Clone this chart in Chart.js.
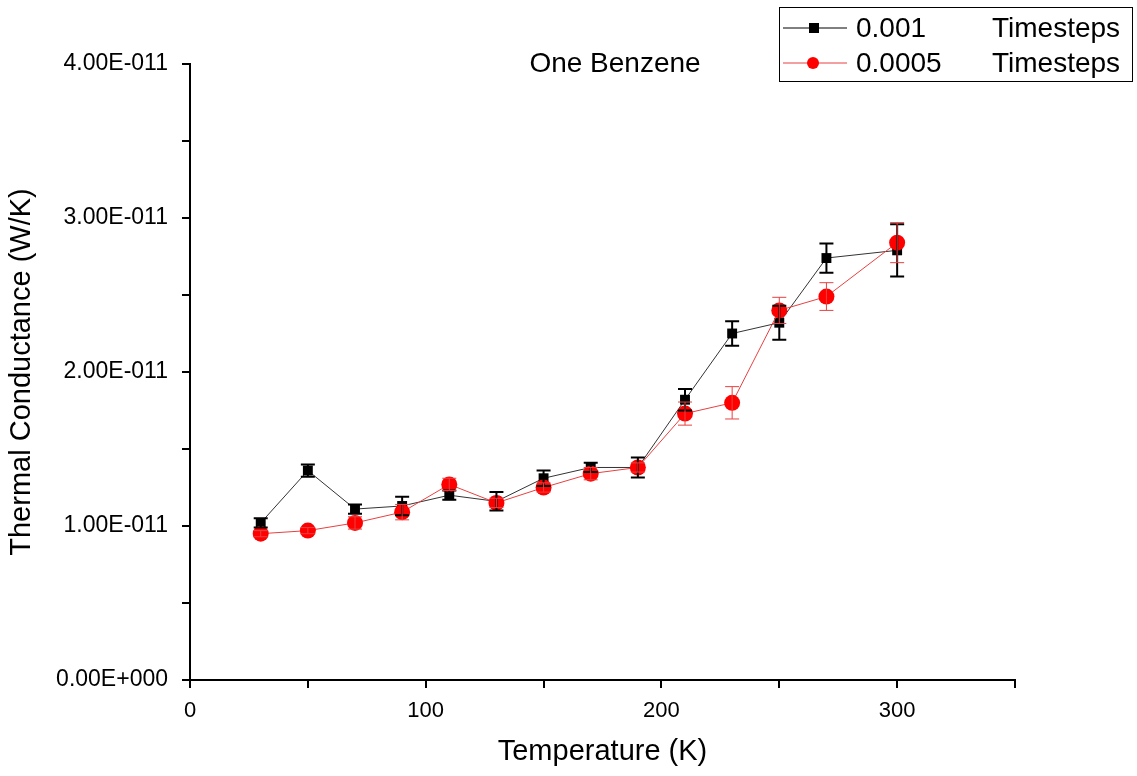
<!DOCTYPE html>
<html>
<head>
<meta charset="utf-8">
<script src="https://cdn.jsdelivr.net/npm/chart.js@4"></script>
<style>
  body { margin: 0; background: #fff; }
  #wrap { width: 1137px; height: 776px; }
</style>
</head>
<body>
<div id="wrap"><canvas id="chart" width="1137" height="776"></canvas></div>
<script>
// Temperature (K)
const temps = [30, 50, 70, 90, 110, 130, 150, 170, 190, 210, 230, 250, 270, 300];
// Thermal conductance, in units of 1e-11 W/K
const cond001 = [1.02, 1.36, 1.11, 1.13, 1.20, 1.16, 1.31, 1.38, 1.38, 1.82, 2.25, 2.32, 2.74, 2.79];
const err001 = [0.03, 0.04, 0.03, 0.06, 0.03, 0.06, 0.05, 0.03, 0.065, 0.07, 0.08, 0.11, 0.095, 0.17];
const cond0005 = [0.95, 0.97, 1.02, 1.09, 1.27, 1.15, 1.25, 1.34, 1.38, 1.73, 1.80, 2.40, 2.49, 2.84];
const err0005 = [0.02, 0.02, 0.04, 0.05, 0.04, 0.03, 0.03, 0.04, 0.03, 0.075, 0.105, 0.085, 0.09, 0.13];

const seriesLabels = ['0.001', '0.0005'];
const FONT = '"Liberation Sans", Arial, sans-serif';

const toPoints = (ys) => temps.map((t, i) => ({ x: t, y: ys[i] }));

// Error bars, drawn through the chart's own scales
const errorBars = {
    id: 'errorBars',
    afterDatasetsDraw(chart) {
        const { ctx, scales: { x, y } } = chart;
        const sets = [
            { vals: cond001, errs: err001, color: '#000', width: 2 },
            { vals: cond0005, errs: err0005, color: '#e84040', width: 1 }
        ];
        ctx.save();
        sets.forEach(s => {
            ctx.strokeStyle = s.color;
            ctx.lineWidth = s.width;
            temps.forEach((t, i) => {
                const px = x.getPixelForValue(t);
                const top = y.getPixelForValue(s.vals[i] + s.errs[i]);
                const bot = y.getPixelForValue(s.vals[i] - s.errs[i]);
                ctx.beginPath();
                ctx.moveTo(px, top); ctx.lineTo(px, bot);
                ctx.moveTo(px - 7, top); ctx.lineTo(px + 7, top);
                ctx.moveTo(px - 7, bot); ctx.lineTo(px + 7, bot);
                ctx.stroke();
            });
        });
        ctx.restore();
    }
};

// Inner title and boxed legend, like the original plot
const decorations = {
    id: 'decorations',
    afterDraw(chart) {
        const { ctx } = chart;
        ctx.save();
        ctx.fillStyle = '#000';
        ctx.font = '28px ' + FONT;
        ctx.textAlign = 'center';
        ctx.textBaseline = 'middle';
        ctx.fillText('One Benzene', 615, 64);

        // legend box
        ctx.strokeStyle = '#000';
        ctx.lineWidth = 1;
        ctx.strokeRect(779.5, 7.5, 353, 74);
        const rows = [
            { y: 28, line: '#000', fill: '#000', shape: 'rect' },
            { y: 63, line: '#e84040', fill: '#ff0000', shape: 'circle' }
        ];
        rows.forEach((r, i) => {
            ctx.strokeStyle = r.line;
            ctx.beginPath();
            ctx.moveTo(783, r.y); ctx.lineTo(847, r.y);
            ctx.stroke();
            ctx.fillStyle = r.fill;
            if (r.shape === 'rect') {
                ctx.fillRect(809, r.y - 5, 10, 10);
            } else {
                ctx.beginPath();
                ctx.arc(813, r.y, 6, 0, Math.PI * 2);
                ctx.fill();
            }
            ctx.fillStyle = '#000';
            ctx.font = '28px ' + FONT;
            ctx.textAlign = 'left';
            ctx.fillText(seriesLabels[i], 856, r.y + 1);
            ctx.fillText('Timesteps', 992, r.y + 1);
        });
        ctx.restore();
    }
};

const isMajor = (v, step) => Math.abs(v / step - Math.round(v / step)) < 1e-6;

new Chart(document.getElementById('chart').getContext('2d'), {
    type: 'line',
    data: {
        datasets: [
            {
                label: seriesLabels[0],
                data: toPoints(cond001),
                borderColor: '#333',
                borderWidth: 1,
                pointStyle: 'rect',
                pointRadius: 7,
                pointBackgroundColor: '#000',
                pointBorderColor: '#000',
                pointBorderWidth: 0,
                order: 2
            },
            {
                label: seriesLabels[1],
                data: toPoints(cond0005),
                borderColor: '#e84040',
                borderWidth: 1,
                pointStyle: 'circle',
                pointRadius: 8,
                pointBackgroundColor: '#ff0000',
                pointBorderColor: '#ff0000',
                pointBorderWidth: 0,
                order: 1
            }
        ]
    },
    options: {
        responsive: false,
        animation: false,
        layout: { padding: { top: 64, right: 122, left: 0, bottom: 0 } },
        plugins: {
            legend: { display: false },
            tooltip: { enabled: false }
        },
        scales: {
            x: {
                type: 'linear',
                min: 0,
                max: 350,
                afterFit: (s) => { s.height = 96; },
                border: { color: '#000', width: 2 },
                grid: { drawOnChartArea: false, tickLength: 8, color: '#000', lineWidth: 2 },
                ticks: {
                    stepSize: 50,
                    padding: 10,
                    color: '#000',
                    font: { family: FONT, size: 22 },
                    maxRotation: 0,
                    callback: (v) => isMajor(v, 100) && v < 350 ? String(v) : ''
                },
                title: {
                    display: true,
                    text: 'Temperature (K)',
                    color: '#000',
                    font: { family: FONT, size: 29 },
                    padding: { top: 0, bottom: 7 }
                }
            },
            y: {
                type: 'linear',
                min: 0,
                max: 4,
                afterFit: (s) => { s.width = 190; },
                border: { color: '#000', width: 2 },
                grid: { drawOnChartArea: false, tickLength: 8, color: '#000', lineWidth: 2 },
                ticks: {
                    stepSize: 0.5,
                    padding: 14,
                    color: '#000',
                    font: { family: FONT, size: 23 },
                    callback: (v) => {
                        if (!isMajor(v, 1)) return '';
                        return v === 0 ? '0.00E+000' : v.toFixed(2) + 'E-011';
                    }
                },
                title: {
                    display: true,
                    text: 'Thermal Conductance (W/K)',
                    color: '#000',
                    font: { family: FONT, size: 29 },
                    padding: { top: 5, bottom: 0 }
                }
            }
        }
    },
    plugins: [errorBars, decorations]
});
</script>
</body>
</html>
